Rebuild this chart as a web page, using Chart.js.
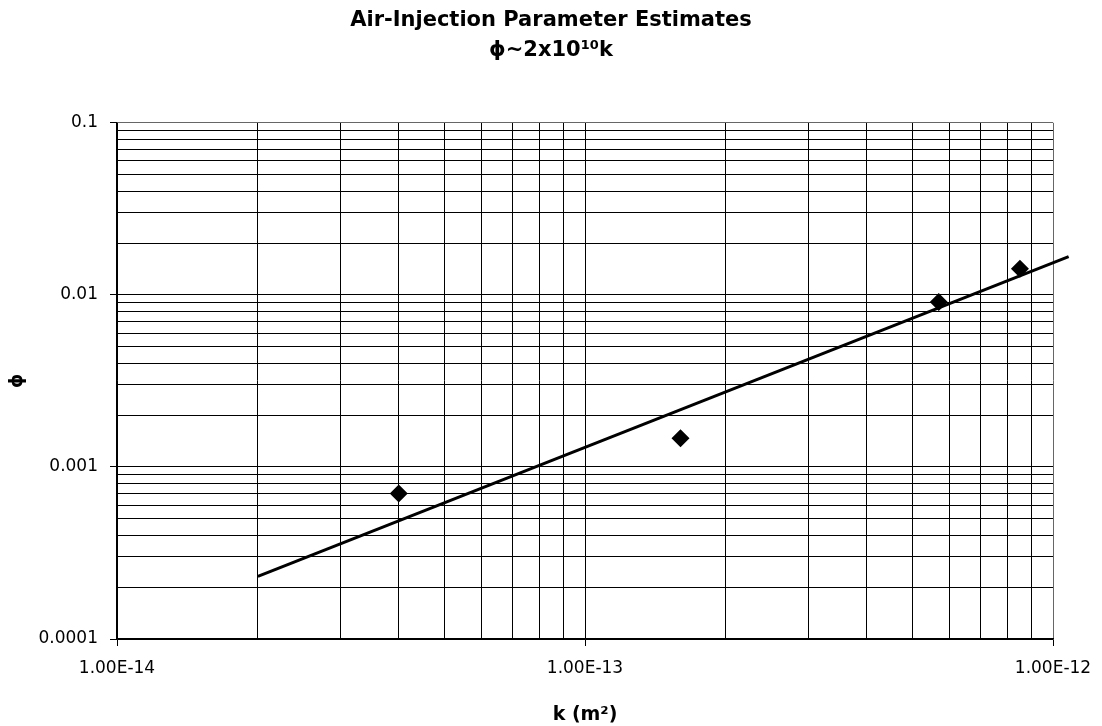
<!DOCTYPE html>
<html lang="en">

<head>
    <meta charset="UTF-8">
    <title>Air-Injection Parameter Estimates</title>
    <style>
        body {
            margin: 0;
            padding: 0;
            background-color: #ffffff;
        }

        canvas {
            display: block;
        }
    </style>
</head>

<body>
    <canvas id="phiChart" width="1102" height="726"></canvas>

    <script src="https://cdn.jsdelivr.net/npm/chart.js@4.4.1/dist/chart.umd.min.js"></script>
    <script>
        // measured points
        const kValues = [4.0e-14, 1.6e-13, 5.7e-13, 8.5e-13];
        const phiValues = [7.0e-4, 1.47e-3, 9.1e-3, 1.42e-2];

        // fitted line, end points
        const fitK = [2.0e-14, 1.08e-12];
        const fitPhi = [2.31e-4, 1.67e-2];

        const xDecades = [1e-14, 1e-13, 1e-12];
        const xTickLabels = ['1.00E-14', '1.00E-13', '1.00E-12'];
        const yDecades = [1e-4, 1e-3, 1e-2, 1e-1];
        const yTickLabels = ['0.0001', '0.001', '0.01', '0.1'];

        const fontFamily = '"DejaVu Sans", Arial, sans-serif';

        // 1..9 x 10^n lines for every decade
        function logGrid(decades) {
            const vals = [];
            for (let i = 0; i < decades.length - 1; i++) {
                for (let m = 1; m < 10; m++) {
                    vals.push(decades[i] * m);
                }
            }
            vals.push(decades[decades.length - 1]);
            return vals;
        }

        function decadeIndex(value, decades) {
            return decades.findIndex(d => Math.abs(value / d - 1) < 1e-6);
        }

        const ctx = document.getElementById('phiChart').getContext('2d');

        new Chart(ctx, {
            type: 'scatter',
            data: {
                datasets: [
                    {
                        label: 'data',
                        data: kValues.map((k, i) => ({ x: k, y: phiValues[i] })),
                        pointStyle: 'rectRot',
                        pointRadius: 9,
                        pointHoverRadius: 9,
                        backgroundColor: '#000',
                        borderColor: '#000',
                        borderWidth: 0,
                        showLine: false
                    },
                    {
                        label: 'fit',
                        data: fitK.map((k, i) => ({ x: k, y: fitPhi[i] })),
                        showLine: true,
                        borderColor: '#000',
                        borderWidth: 3,
                        pointRadius: 0,
                        clip: false
                    }
                ]
            },
            options: {
                responsive: false,
                animation: false,
                layout: {
                    padding: 0
                },
                plugins: {
                    legend: { display: false },
                    tooltip: { enabled: false },
                    title: {
                        display: true,
                        text: ['Air-Injection Parameter Estimates', 'ϕ~2x10¹⁰k'],
                        color: '#000',
                        font: { family: fontFamily, size: 21, weight: 'bold', lineHeight: 1.4 },
                        padding: { top: 6, bottom: 58 }
                    }
                },
                scales: {
                    x: {
                        type: 'logarithmic',
                        position: 'bottom',
                        min: 1e-14,
                        max: 1e-12,
                        afterBuildTicks: scale => {
                            scale.ticks = logGrid(xDecades).map(v => ({ value: v }));
                        },
                        afterFit: scale => {
                            scale.height = 87;
                            scale.paddingRight = 49;
                        },
                        ticks: {
                            autoSkip: false,
                            maxRotation: 0,
                            padding: 12,
                            color: '#000',
                            font: { family: fontFamily, size: 17 },
                            callback: v => {
                                const i = decadeIndex(v, xDecades);
                                return i >= 0 ? xTickLabels[i] : '';
                            }
                        },
                        grid: {
                            color: c => (c.tick && decadeIndex(c.tick.value, [1e-12]) === 0) ? '#666' : '#000',
                            lineWidth: 1,
                            tickLength: 7,
                            tickColor: c => (c.tick && decadeIndex(c.tick.value, xDecades) >= 0) ? '#000' : 'rgba(0,0,0,0)'
                        },
                        border: { color: '#000', width: 1.5 },
                        title: {
                            display: true,
                            text: 'k (m²)',
                            color: '#000',
                            font: { family: fontFamily, size: 19, weight: 'bold' },
                            padding: { top: 4, bottom: 0 }
                        }
                    },
                    y: {
                        type: 'logarithmic',
                        position: 'left',
                        min: 1e-4,
                        max: 1e-1,
                        afterBuildTicks: scale => {
                            scale.ticks = logGrid(yDecades).map(v => ({ value: v }));
                        },
                        afterFit: scale => {
                            scale.width = 117;
                        },
                        ticks: {
                            autoSkip: false,
                            padding: 12,
                            color: '#000',
                            font: { family: fontFamily, size: 17 },
                            callback: v => {
                                const i = decadeIndex(v, yDecades);
                                return i >= 0 ? yTickLabels[i] : '';
                            }
                        },
                        grid: {
                            color: c => (c.tick && decadeIndex(c.tick.value, [1e-1]) === 0) ? '#666' : '#000',
                            lineWidth: 1,
                            tickLength: 7,
                            tickColor: c => (c.tick && decadeIndex(c.tick.value, yDecades) >= 0) ? '#000' : 'rgba(0,0,0,0)'
                        },
                        border: { color: '#000', width: 1.5 },
                        title: {
                            display: true,
                            text: 'ϕ',
                            color: '#000',
                            font: { family: fontFamily, size: 18, weight: 'bold' },
                            padding: { top: 7, bottom: 0 }
                        }
                    }
                }
            }
        });
    </script>
</body>

</html>
